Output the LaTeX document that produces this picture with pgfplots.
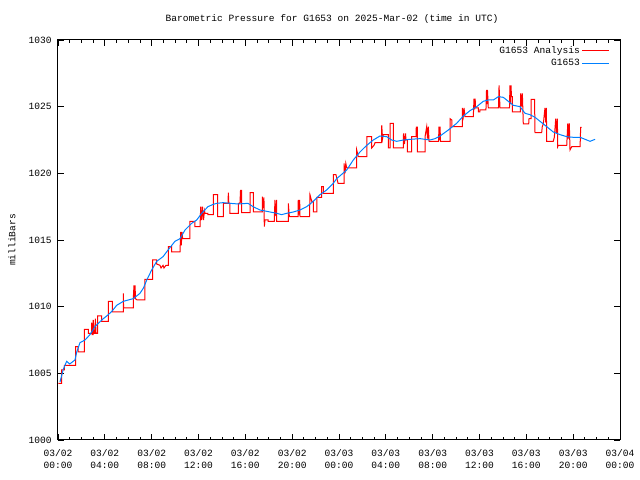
\documentclass[border=0pt]{standalone}
\usepackage{fontspec}
\setmainfont{Liberation Mono}
\usepackage{pgfplots}
\pgfplotsset{compat=1.18}
\usetikzlibrary{calc}
\definecolor{anared}{RGB}{255,0,0}
\definecolor{obsblue}{RGB}{0,128,255}
\begin{document}
\fontsize{9.6}{11}\selectfont
\begin{tikzpicture}[x=1bp,y=1bp]
\begin{axis}[
 scale only axis, width=562bp, height=400bp,
 xmin=0, xmax=48, ymin=1000, ymax=1030,
 xtick={0,4,...,48}, minor x tick num=3,
 xticklabels={03/02\\00:00,03/02\\04:00,03/02\\08:00,03/02\\12:00,03/02\\16:00,03/02\\20:00,03/03\\00:00,03/03\\04:00,03/03\\08:00,03/03\\12:00,03/03\\16:00,03/03\\20:00,03/04\\00:00},
 xticklabel style={align=center, font=\fontsize{9.6}{12}\selectfont, yshift=-6bp},
 ytick={1000,1005,...,1030},
 yticklabels={1000,1005,1010,1015,1020,1025,1030},
 yticklabel style={font=\fontsize{9.6}{11}\selectfont, xshift=-3bp},
 tick align=inside, major tick length=6bp, minor tick length=3bp,
 every tick/.style={black, line width=0.8bp},
 axis line style={line width=1bp},
 /pgf/number format/assume math mode=true,
 legend style={draw=none, fill=none, at={(rel axis cs:0.9875,0.995)}, anchor=north east,
   font=\fontsize{9.6}{11}\selectfont, row sep=1bp},
 legend cell align=right, legend plot pos=right,
 legend image code/.code={\draw[#1, line width=1bp] (7bp,0bp) -- (34bp,0bp);},
]
\coordinate (O) at (rel axis cs:0,0);
\addplot[anared, line width=1bp, line join=miter] coordinates {
(0.03,1004.25)(0.32,1004.25)(0.32,1005.25)(0.54,1005.25)(0.54,1005.6)(1.51,1005.6)(1.51,1007.0)(1.71,1007.0)(1.71,1006.6)(2.26,1006.6)
(2.26,1008.3)(2.59,1008.3)(2.59,1008.0)(2.86,1008.0)(2.88,1008.8)(2.92,1007.9)(2.99,1007.9)(3.01,1009.0)(3.07,1008.0)(3.16,1008.0)
(3.19,1009.1)(3.25,1008.0)(3.39,1008.0)(3.39,1009.3)(3.73,1009.3)(3.73,1008.9)(4.30,1008.9)(4.30,1010.4)(4.65,1010.4)(4.65,1009.6)
(5.58,1009.6)(5.58,1011.0)(5.60,1009.9)(6.43,1009.9)(6.43,1010.6)(6.49,1011.6)(6.53,1010.6)(6.58,1011.6)(6.62,1010.6)(6.75,1010.5)
(7.43,1010.5)(7.43,1012.05)(8.09,1012.05)(8.09,1013.5)(8.43,1013.5)(8.43,1013.2)(8.71,1013.1)(8.80,1012.9)(8.97,1013.1)(9.05,1012.9)
(9.22,1013.1)(9.42,1013.1)(9.42,1014.5)(9.71,1014.5)(9.71,1014.1)(10.42,1014.1)(10.48,1015.6)(10.53,1014.6)(10.59,1015.6)(10.65,1015.1)
(11.27,1015.1)(11.27,1016.4)(11.70,1016.4)(11.70,1016.0)(12.13,1016.0)(12.19,1017.5)(12.27,1016.5)(12.34,1017.5)(12.43,1016.5)(12.51,1017.2)
(12.56,1017.0)(12.81,1017.0)(12.81,1016.9)(13.26,1016.9)(13.26,1018.4)(13.64,1018.4)(13.64,1016.75)(14.12,1016.75)(14.12,1017.75)(14.52,1017.75)
(14.55,1018.55)(14.59,1017.75)(14.69,1017.75)(14.69,1017.0)(15.40,1017.0)(15.40,1017.75)(15.54,1017.75)(15.59,1018.75)(15.65,1017.8)(15.69,1018.75)
(15.69,1017.05)(16.40,1017.05)(16.40,1018.55)(16.68,1018.55)(16.68,1017.1)(17.45,1017.1)(17.45,1018.25)(17.54,1017.4)(17.59,1018.2)(17.62,1016.0)
(17.68,1016.5)(17.94,1016.5)(17.94,1016.4)(18.47,1016.4)(18.53,1018.0)(18.60,1016.8)(18.68,1018.0)(18.68,1016.4)(19.67,1016.4)(19.67,1017.75)
(19.76,1016.75)(20.50,1016.75)(20.52,1018.0)(20.58,1016.9)(20.64,1018.0)(20.67,1016.75)(21.48,1016.75)(21.52,1018.4)(21.67,1017.9)(21.81,1017.9)
(21.81,1017.1)(22.10,1017.1)(22.10,1018.2)(22.51,1018.2)(22.52,1019.0)(22.66,1019.0)(22.66,1018.5)(23.51,1018.5)(23.51,1019.9)(23.74,1019.9)
(23.92,1019.25)(24.43,1019.25)(24.43,1020.75)(24.51,1020.0)(24.58,1020.75)(24.66,1020.4)(25.50,1020.4)(25.51,1021.75)(25.65,1021.25)(26.37,1021.25)
(26.37,1022.75)(26.79,1022.75)(26.79,1021.9)(26.99,1022.1)(27.08,1022.3)(27.63,1022.3)(27.65,1023.6)(27.72,1022.6)(27.78,1022.9)(28.21,1022.9)
(28.21,1021.9)(28.36,1021.9)(28.36,1023.75)(28.64,1023.75)(28.64,1021.9)(29.49,1021.9)(29.51,1023.0)(29.59,1022.2)(29.68,1023.0)(29.72,1022.5)
(29.83,1022.5)(29.83,1021.6)(30.21,1021.6)(30.21,1022.75)(30.58,1022.75)(30.60,1023.5)(30.65,1022.7)(30.69,1023.5)(30.69,1021.6)(31.35,1021.6)
(31.35,1022.75)(31.49,1023.5)(31.56,1022.6)(31.63,1023.5)(31.69,1022.4)(32.50,1022.4)(32.54,1023.5)(32.58,1022.5)(32.63,1023.5)(32.67,1022.4)
(33.48,1022.4)(33.48,1024.1)(33.63,1024.0)(33.63,1023.5)(34.53,1023.5)(34.53,1024.9)(34.62,1024.3)(34.68,1024.9)(34.76,1024.25)(35.47,1024.25)
(35.53,1025.6)(35.58,1024.8)(35.63,1025.6)(35.66,1024.9)(35.90,1024.9)(35.90,1024.6)(36.04,1024.6)(36.04,1024.75)(36.55,1024.75)(36.60,1026.25)
(36.64,1025.2)(36.68,1026.25)(36.72,1025.5)(36.75,1024.9)(37.62,1024.9)(37.67,1026.6)(37.71,1025.75)(37.75,1024.9)(38.56,1024.9)(38.60,1026.6)
(38.65,1025.2)(38.69,1026.6)(38.73,1025.75)(38.80,1025.75)(38.80,1024.6)(39.49,1024.6)(39.52,1026.0)(39.59,1025.0)(39.66,1026.0)(39.74,1023.7)
(40.20,1023.7)(40.23,1024.1)(40.40,1024.1)(40.40,1025.55)(40.70,1025.55)(40.74,1023.05)(41.31,1023.05)(41.36,1023.5)(41.45,1023.7)(41.59,1024.9)
(41.66,1023.8)(41.71,1024.9)(41.74,1022.4)(42.30,1022.4)(42.39,1022.7)(42.51,1024.1)(42.58,1023.0)(42.65,1024.1)(42.68,1022.0)(42.73,1022.1)
(43.45,1022.1)(43.54,1023.75)(43.60,1022.6)(43.67,1023.75)(43.73,1021.75)(43.88,1022.0)(44.59,1022.0)(44.64,1023.45)(44.73,1023.45)
};
\addlegendentry{G1653 Analysis}
\addplot[obsblue, line width=1bp] coordinates {
(0.17,1004.35)(0.45,1005.3)(0.74,1005.9)(1.0,1005.7)(1.45,1006.0)(1.6,1006.6)(1.88,1007.3)(2.31,1007.5)(2.73,1007.9)(3.16,1008.5)
(3.5,1008.8)(3.87,1009.1)(4.30,1009.4)(4.65,1009.7)(5.01,1010.1)(5.58,1010.4)(6.0,1010.5)(6.43,1010.6)(7.0,1011.0)(7.3,1011.4)
(7.58,1012.0)(8.0,1012.75)(8.43,1013.4)(8.97,1013.75)(9.40,1014.25)(9.99,1014.9)(10.42,1015.1)(10.85,1015.75)(11.42,1016.25)(11.85,1016.5)
(12.27,1017.0)(12.81,1017.5)(13.2,1017.65)(13.55,1017.75)(14.1,1017.8)(14.69,1017.75)(15.4,1017.7)(16.23,1017.75)(16.66,1017.5)(17.25,1017.25)
(18.11,1017.1)(18.68,1017.0)(19.1,1016.9)(19.53,1017.0)(20.10,1017.1)(20.67,1017.25)(21.24,1017.5)(21.81,1017.9)(22.38,1018.4)(22.95,1018.75)
(23.51,1019.25)(23.80,1019.6)(24.2,1019.9)(24.66,1020.25)(25.22,1021.0)(25.79,1021.6)(26.37,1022.1)(26.93,1022.5)(27.50,1022.8)(28.07,1022.75)
(28.5,1022.5)(28.93,1022.4)(29.5,1022.5)(30.07,1022.55)(30.92,1022.6)(31.77,1022.5)(32.2,1022.6)(32.63,1022.8)(33.34,1023.25)(34.05,1023.75)
(34.62,1024.3)(35.19,1024.7)(35.76,1025.0)(36.32,1025.4)(36.75,1025.5)(37.18,1025.5)(37.61,1025.75)(38.03,1025.7)(38.46,1025.4)(38.89,1025.1)
(39.46,1025.0)(39.89,1024.5)(40.31,1024.4)(40.74,1024.2)(41.17,1023.9)(41.74,1023.5)(42.30,1023.1)(42.88,1022.9)(43.45,1022.75)(44.01,1022.7)
(44.59,1022.7)(45.16,1022.5)(45.44,1022.4)(45.87,1022.55)
};
\addlegendentry{G1653}
\end{axis}
\pgfresetboundingbox
\path[use as bounding box] ($(O)+(-58,-40)$) rectangle ($(O)+(582,440)$);
\node[font=\fontsize{9.6}{11}\selectfont] at ($(O)+(274,421)$) {Barometric Pressure for G1653 on 2025-Mar-02 (time in UTC)};
\node[font=\fontsize{9.6}{11}\selectfont, rotate=90] at ($(O)+(-46,200)$) {milliBars};
\end{tikzpicture}
\end{document}
